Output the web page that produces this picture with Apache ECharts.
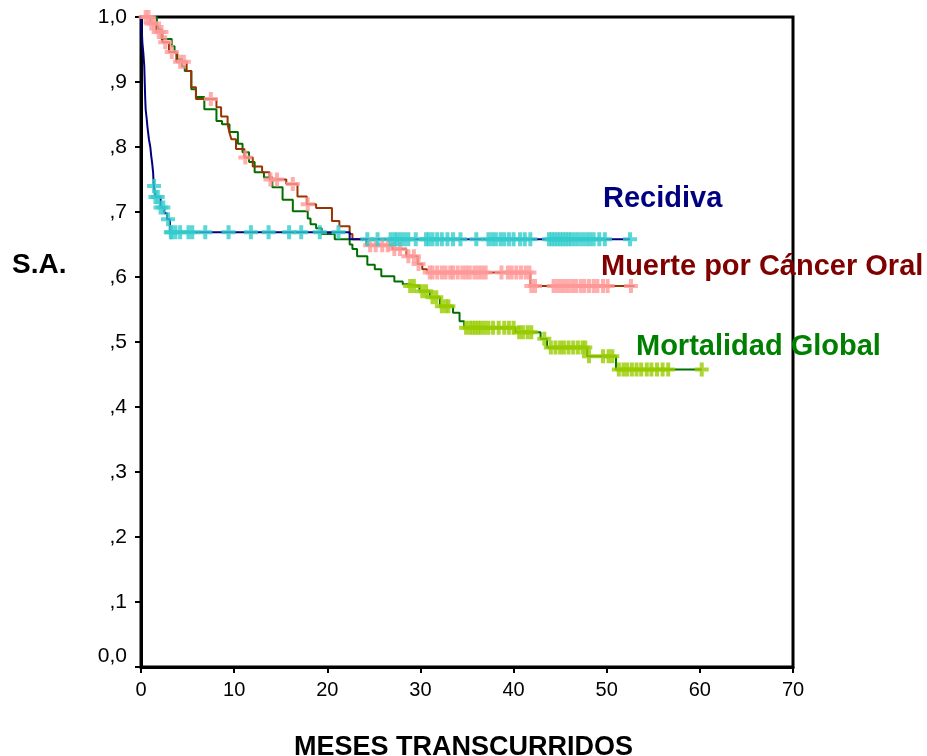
<!DOCTYPE html>
<html>
<head>
<meta charset="utf-8">
<script src="https://cdn.jsdelivr.net/npm/echarts/dist/echarts.min.js"></script>
<style>
  html, body { margin: 0; padding: 0; background: #ffffff; }
  #chart { width: 927px; height: 756px; }
</style>
</head>
<body>
<div id="chart"></div>
<script>
// Kaplan-Meier survival estimates (months, survival proportion)

// Recidiva
const recTimes = [0, 0.05, 0.1, 0.15, 0.25, 0.35, 0.4, 0.45, 0.5, 0.6, 0.7, 0.85, 1.0, 1.1, 1.2, 1.3, 1.37, 1.55, 2.1, 2.5, 2.8, 3.1, 22.4];
const recSurv  = [1.0, 0.99, 0.975, 0.96, 0.945, 0.925, 0.9, 0.875, 0.858, 0.845, 0.83, 0.812, 0.8, 0.786, 0.775, 0.761, 0.74, 0.723, 0.707, 0.698, 0.689, 0.669, 0.658];
const recEnd = 52.5;
const recCensored = [1.4, 1.55, 1.8, 2.1, 2.4, 2.9, 3.2, 3.3, 3.7, 4.2, 5.1, 5.5, 6.9, 9.4, 11.8, 13.7, 15.9, 17.2, 19.2, 21.2,
  24.3, 25.4, 26.8, 27.2, 27.5, 27.9, 28.3, 28.7, 29.5, 30.6, 30.9, 31.3, 31.8, 32.3, 32.9, 33.5, 34.3, 36.0, 37.3, 37.7,
  38.1, 38.6, 39.0, 39.5, 40.0, 40.7, 41.2, 41.8, 43.8, 44.1, 44.4, 44.7, 45.0, 45.3, 45.6, 45.9, 46.2, 46.6, 47.0, 47.4,
  47.8, 48.2, 48.6, 49.2, 49.8, 52.5];

// Muerte por Cáncer Oral
const mueTimes = [0, 1.0, 1.6, 2.3, 3.0, 3.8, 4.9, 5.4, 5.9, 8.1, 8.6, 9.3, 9.5, 9.7, 10.2, 11.1, 12.0, 13.0, 13.8, 15.6, 16.8, 17.8, 18.8, 20.5, 21.3, 22.4, 22.7, 24.2, 27.0, 28.5, 29.7, 30.2, 30.7, 41.8];
const mueSurv  = [1.0, 0.99, 0.977, 0.961, 0.946, 0.931, 0.917, 0.892, 0.874, 0.861, 0.847, 0.835, 0.822, 0.812, 0.797, 0.784, 0.77, 0.761, 0.75, 0.743, 0.724, 0.712, 0.706, 0.686, 0.678, 0.666, 0.658, 0.649, 0.643, 0.632, 0.62, 0.612, 0.607, 0.586];
const mueEnd = 53.0;
const mueCensored = [0.5, 0.8, 1.1, 1.4, 1.9, 2.2, 2.6, 3.3, 4.2, 4.6, 7.5, 11.2, 13.9, 14.6, 16.3, 17.9,
  24.6, 25.2, 25.9, 26.5, 27.2, 27.8, 28.7, 29.3, 29.8,
  31.0, 31.3, 31.8, 32.3, 32.7, 33.2, 33.5, 34.0, 34.5, 34.9, 35.3, 35.8, 36.2, 36.6, 37.0, 38.7, 39.4, 39.8, 40.3, 40.8, 41.3, 41.7,
  41.9, 42.3, 44.3, 44.7, 45.1, 45.5, 45.9, 46.3, 46.7, 47.2, 47.6, 48.1, 48.6, 49.0, 49.6, 50.1, 52.6];

// Mortalidad Global
const morTimes = [0, 1.7, 1.9, 2.2, 3.3, 3.6, 3.9, 4.4, 4.7, 5.4, 5.9, 6.8, 8.1, 8.7, 9.5, 10.4, 10.9, 11.6, 12.2, 13.2, 14.1, 15.2, 16.3, 17.9, 18.2, 18.8, 19.4, 20.8, 22.4, 22.7, 23.2, 24.3, 25.1, 25.8, 27.2, 28.1, 28.8, 29.9, 31.0, 32.1, 33.5, 34.2, 34.7, 40.2, 42.9, 43.6, 47.9, 51.0];
const morSurv  = [1.0, 0.99, 0.981, 0.966, 0.955, 0.945, 0.935, 0.924, 0.917, 0.889, 0.877, 0.858, 0.84, 0.835, 0.823, 0.805, 0.792, 0.777, 0.761, 0.753, 0.738, 0.719, 0.701, 0.69, 0.681, 0.675, 0.666, 0.658, 0.65, 0.643, 0.632, 0.619, 0.612, 0.601, 0.593, 0.589, 0.586, 0.578, 0.569, 0.555, 0.545, 0.532, 0.522, 0.515, 0.505, 0.4915, 0.478, 0.4576];
const morEnd = 60.2;
const morCensored = [28.9, 29.3, 30.2, 30.6, 31.3, 31.7, 32.3, 32.7, 33.0,
  34.9, 35.3, 35.6, 35.9, 36.2, 36.5, 36.9, 37.3, 37.8, 38.4, 39.0, 39.5, 40.0, 40.6, 41.0, 41.5, 41.9,
  43.3, 44.0, 44.5, 45.0, 45.4, 45.9, 46.4, 46.9, 47.4, 47.7, 48.1, 49.6, 50.2, 50.6,
  51.3, 51.8, 52.2, 52.7, 53.2, 53.7, 54.3, 54.8, 55.4, 56.0, 56.6, 60.2];

// Axis tick labels
const xTickLabels = ['0', '10', '20', '30', '40', '50', '60', '70'];
const yTickLabels = ['0,0', ',1', ',2', ',3', ',4', ',5', ',6', ',7', ',8', ',9', '1,0'];

// Survival value of a step curve at time t
function levelAt(times, surv, t) {
  let s = surv[0];
  for (let i = 0; i < times.length; i++) {
    if (times[i] <= t) s = surv[i]; else break;
  }
  return s;
}
function stepPoints(times, surv, end) {
  const pts = times.map((t, i) => [t, surv[i]]);
  pts.push([end, surv[surv.length - 1]]);
  return pts;
}
function censorPoints(times, surv, cens) {
  return cens.map(t => [t, levelAt(times, surv, t)]);
}

// censoring mark: a filled plus sign
const plusMark = 'path://M5,0H9V5H14V9H9V14H5V9H0V5H5Z';
const FONT = '"Liberation Sans", Arial, sans-serif';

function curve(name, pts, color) {
  return {
    name: name, type: 'line', step: 'end', data: pts,
    showSymbol: false, symbol: 'none',
    lineStyle: { color: color, width: 2 },
    itemStyle: { color: color },
    z: 2, animation: false
  };
}
function censors(name, pts, color) {
  return {
    name: name, type: 'scatter', data: pts,
    symbol: plusMark, symbolSize: 14,
    itemStyle: { color: color },
    z: 3, animation: false
  };
}

const chart = echarts.init(document.getElementById('chart'), null, { renderer: 'canvas' });

chart.setOption({
  backgroundColor: '#ffffff',
  animation: false,
  grid: {
    left: 141, right: 134, top: 17, bottom: 89,
    show: true, borderColor: '#000000', borderWidth: 3, backgroundColor: 'transparent'
  },
  xAxis: {
    type: 'value', min: 0, max: 70, interval: 10,
    axisLine: { show: true, lineStyle: { color: '#000000', width: 3 } },
    axisTick: { show: true, length: 6, lineStyle: { color: '#000000', width: 2 } },
    splitLine: { show: false },
    axisLabel: {
      margin: 13, fontSize: 20, color: '#000000', fontFamily: FONT,
      formatter: v => xTickLabels[Math.round(v / 10)]
    }
  },
  yAxis: {
    type: 'value', min: 0, max: 1, interval: 0.1,
    axisLine: { show: true, lineStyle: { color: '#000000', width: 3 } },
    axisTick: { show: true, length: 6, lineStyle: { color: '#000000', width: 2 } },
    splitLine: { show: false },
    axisLabel: {
      margin: 14, fontSize: 21, color: '#000000', fontFamily: FONT,
      formatter: v => {
        const k = Math.round(v * 10);
        return k === 0 ? '{z|' + yTickLabels[0] + '}' : yTickLabels[k];
      },
      rich: { z: { fontSize: 21, fontFamily: FONT, color: '#000000', padding: [0, 0, 22, 0] } }
    }
  },
  title: [
    { text: 'Recidiva', left: 603, top: 184, padding: 0,
      textStyle: { fontSize: 29, fontWeight: 'bold', color: '#000080', fontFamily: FONT } },
    { text: 'Muerte por Cáncer Oral', left: 601, top: 252, padding: 0,
      textStyle: { fontSize: 29, fontWeight: 'bold', color: '#800000', fontFamily: FONT } },
    { text: 'Mortalidad Global', left: 636, top: 332, padding: 0,
      textStyle: { fontSize: 29, fontWeight: 'bold', color: '#008000', fontFamily: FONT } },
    { text: 'S.A.', left: 12, top: 251, padding: 0,
      textStyle: { fontSize: 28, fontWeight: 'bold', color: '#000000', fontFamily: FONT } },
    { text: 'MESES TRANSCURRIDOS', left: 'center', top: 734, padding: 0,
      textStyle: { fontSize: 27, fontWeight: 'bold', color: '#000000', fontFamily: FONT } }
  ],
  series: [
    curve('Mortalidad Global', stepPoints(morTimes, morSurv, morEnd), '#006f00'),
    curve('Muerte por Cáncer Oral', stepPoints(mueTimes, mueSurv, mueEnd), '#993300'),
    curve('Recidiva', stepPoints(recTimes, recSurv, recEnd), '#000080'),
    censors('Mortalidad Global (censurado)', censorPoints(morTimes, morSurv, morCensored), '#99cc00'),
    censors('Muerte por Cáncer Oral (censurado)', censorPoints(mueTimes, mueSurv, mueCensored), '#ff9999'),
    censors('Recidiva (censurado)', censorPoints(recTimes, recSurv, recCensored), '#33cccc')
  ]
});
</script>
</body>
</html>
